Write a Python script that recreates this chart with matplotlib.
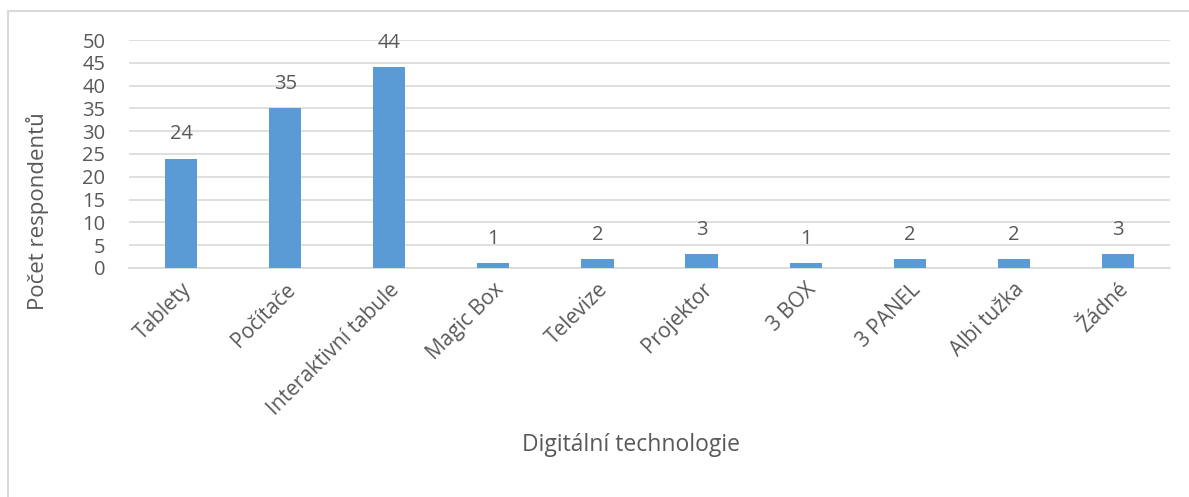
import matplotlib.pyplot as plt
from matplotlib.patches import Rectangle
import numpy as np

# data
kategorie = ["Tablety", "Počítače", "Interaktivní tabule", "Magic Box", "Televize",
             "Projektor", "3 BOX", "3 PANEL", "Albi tužka", "Žádné"]
pocty = [24, 35, 44, 1, 2, 3, 1, 2, 2, 3]
y_ticks = [0, 5, 10, 15, 20, 25, 30, 35, 40, 45, 50]

plt.rcParams['font.family'] = ['Open Sans', 'DejaVu Sans']
barva_textu = "#595959"

fig = plt.figure(figsize=(11.89, 4.97), dpi=100)
ax = fig.add_axes([0.1085, 0.4608, 0.8755, 0.4587])

# ramecek kolem celeho grafu (vpravo a dole je oriznuty)
fig.patches.append(Rectangle((8 / 1189, -0.02), 1.1, 1 - 10.5 / 497 + 0.02,
                             transform=fig.transFigure, fill=False,
                             edgecolor="#D9D9D9", linewidth=1.5))

x = np.arange(len(kategorie))
ax.bar(x, pocty, width=0.31, color="#5B9BD5", zorder=3)

# popisky hodnot nad sloupci
for xi, v in zip(x, pocty):
    ax.annotate(str(v), (xi, v), xytext=(0, 17.5), textcoords="offset points",
                ha="center", va="center", fontsize=14.5, color=barva_textu)

ax.set_xlim(-0.5, len(kategorie) - 0.5)
ax.set_ylim(0, 50)
ax.set_yticks(y_ticks)
ax.set_xticks(x)
ax.set_xticklabels(kategorie, rotation=45, ha="right", rotation_mode="anchor",
                   fontsize=15, color=barva_textu)
ax.tick_params(axis="y", labelsize=14.5, labelcolor=barva_textu, length=0, pad=17)
ax.tick_params(axis="x", length=0, pad=8)

ax.grid(axis="y", color="#D9D9D9", linewidth=1.2, zorder=0)
for s in ["top", "right", "left"]:
    ax.spines[s].set_visible(False)
ax.spines["bottom"].set_color("#D9D9D9")
ax.spines["bottom"].set_linewidth(1.2)

fig.text(38 / 1189, 1 - 211 / 497, "Počet respondentů", rotation=90, ha="center",
         va="center", fontsize=16, color=barva_textu)
fig.text(631 / 1189, 1 - 445 / 497, "Digitální technologie", ha="center",
         va="center", fontsize=16.5, color=barva_textu)

fig.savefig("out.png", dpi=100)
